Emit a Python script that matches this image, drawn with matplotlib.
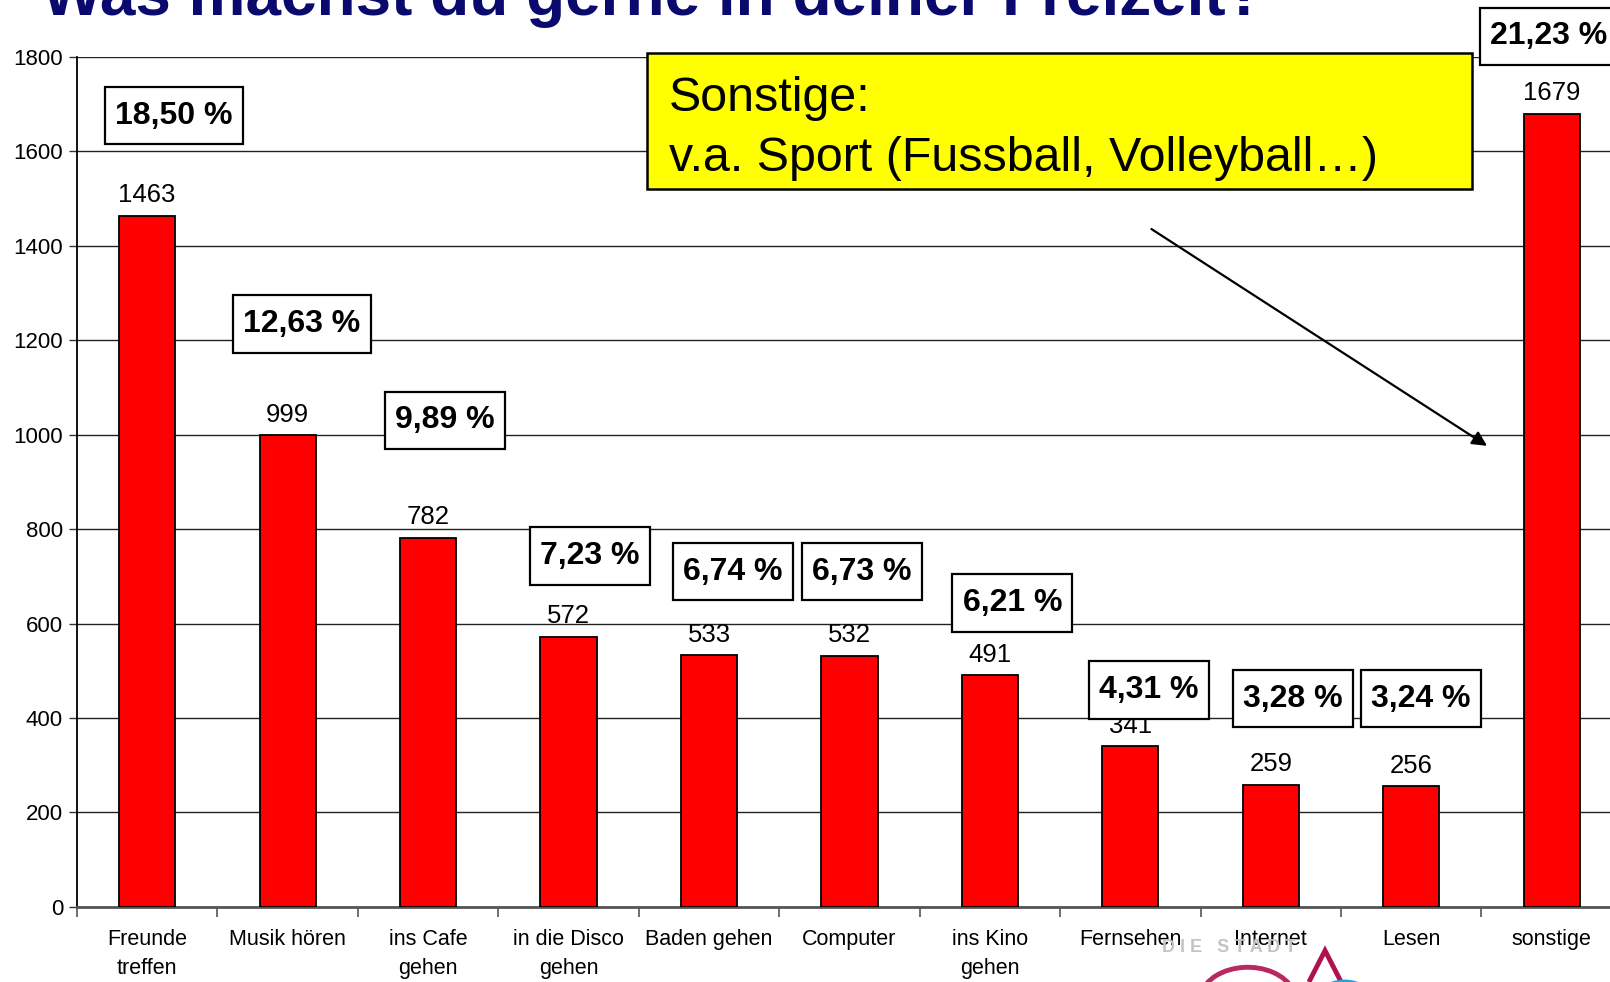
import matplotlib
matplotlib.use("Agg")
import matplotlib.pyplot as plt
from matplotlib.patches import Rectangle, Arc, Polygon
from matplotlib.path import Path
import numpy as np

# data
categories = ["Freunde\ntreffen", "Musik hören", "ins Cafe\ngehen", "in die Disco\ngehen",
              "Baden gehen", "Computer", "ins Kino\ngehen", "Fernsehen", "Internet",
              "Lesen", "sonstige"]
counts = [1463, 999, 782, 572, 533, 532, 491, 341, 259, 256, 1679]
percents = ["18,50 %", "12,63 %", "9,89 %", "7,23 %", "6,74 %", "6,73 %",
            "6,21 %", "4,31 %", "3,28 %", "3,24 %", "21,23 %"]
yticks = [0, 200, 400, 600, 800, 1000, 1200, 1400, 1600, 1800]

# where the percent boxes sit (data coords, text centre)
pct_x = [0.19, 1.10, 2.12, 3.15, 4.17, 5.09, 6.16, 7.13, 8.16, 9.07, 9.98]
pct_y = [1675, 1234, 1030, 743, 710, 710, 643, 459, 441, 441, 1843]


def pct_box(x0, y0, width, height, mutation_size):
    # plain rectangle, more padding up/down than left/right
    hp = 0.32 * mutation_size
    vp = 0.43 * mutation_size
    verts = [(x0 - hp, y0 - vp), (x0 + width + hp, y0 - vp),
             (x0 + width + hp, y0 + height + vp), (x0 - hp, y0 + height + vp),
             (x0 - hp, y0 - vp)]
    return Path(verts, closed=True)


plt.rcParams['font.family'] = ['Liberation Sans', 'DejaVu Sans']

fig = plt.figure(figsize=(16.1, 9.82), dpi=100)
ax = fig.add_axes([0.0478, 0.0764, 0.9596, 0.866])

x = np.arange(len(categories))
ax.bar(x, counts, width=0.4, color='#FF0000', edgecolor='black', linewidth=1.3, zorder=3)

ax.set_xlim(-0.5, len(categories) - 0.5)
ax.set_ylim(0, 1800)
ax.set_yticks(yticks)
ax.set_yticklabels([str(v) for v in yticks], fontsize=16)
ax.yaxis.grid(True, color='#222222', linewidth=1.0, zorder=0)
ax.set_axisbelow(True)

ax.set_xticks(x)
ax.set_xticklabels(categories, fontsize=15.5, linespacing=1.5)
ax.set_xticks(np.arange(-0.5, len(categories)), minor=True)
ax.tick_params(axis='x', which='major', length=0, pad=16)
ax.tick_params(axis='x', which='minor', length=7, width=1.2, color='#555555', direction='out')
ax.tick_params(axis='y', length=6, width=1, color='#333333', pad=4)

for s in ['top', 'right']:
    ax.spines[s].set_visible(False)
ax.spines['left'].set_color('black')
ax.spines['left'].set_linewidth(1.3)
ax.spines['bottom'].set_color('#555555')
ax.spines['bottom'].set_linewidth(2)

# value labels above the bars
for xi, v in zip(x, counts):
    ax.annotate(str(v), (xi, v), xytext=(0, 6), textcoords='offset points',
                ha='center', va='bottom', fontsize=18.5, zorder=5)

# boxed percentages
for px, py, p in zip(pct_x, pct_y, percents):
    ax.text(px, py, p, ha='center', va='center', fontsize=23, fontweight='bold', zorder=6,
            bbox=dict(boxstyle=pct_box, fc='white', ec='black', lw=1.6))

# arrow towards "sonstige"
ax.annotate("", xy=(9.54, 976), xytext=(7.15, 1435),
            arrowprops=dict(arrowstyle='-|>', color='black', lw=1.6, mutation_scale=22,
                            shrinkA=0, shrinkB=0), zorder=6)

# yellow note box
fig.patches.append(Rectangle((0.4019, 0.8075), 0.5124, 0.1385, transform=fig.transFigure,
                             facecolor='#FFFF00', edgecolor='black', linewidth=1.8, zorder=10))
fig.text(0.4153, 0.887, "Sonstige:", fontsize=34.8, va='baseline', ha='left', zorder=11)
fig.text(0.4153, 0.826, "v.a. Sport (Fussball, Volleyball…)", fontsize=34.8,
         va='baseline', ha='left', zorder=11)

# title, cut off at the top of the slide
fig.text(0.026, 0.985, "Was machst du gerne in deiner Freizeit?", fontsize=46,
         fontweight='bold', color='#0A0A6E', va='baseline', ha='left')

# faint logo at the bottom
fig.text(0.722, 0.035, "D I E   S T A D T", fontsize=13, color='#C4C4C4',
         fontweight='bold', ha='left', va='center', zorder=0)
fig.patches.append(Arc((0.775, -0.02), 0.06, 0.07, theta1=25, theta2=165,
                       transform=fig.transFigure, color='#B0124E', lw=3.5, alpha=0.9))
fig.patches.append(Polygon([[0.813, 0.0], [0.823, 0.032], [0.833, 0.0]], closed=False,
                           transform=fig.transFigure, fill=False, edgecolor='#B0124E', lw=3.5))
fig.patches.append(Arc((0.835, -0.02), 0.035, 0.04, theta1=0, theta2=180,
                       transform=fig.transFigure, color='#2AA0D8', lw=3.5))

fig.savefig("out.png", dpi=100)
